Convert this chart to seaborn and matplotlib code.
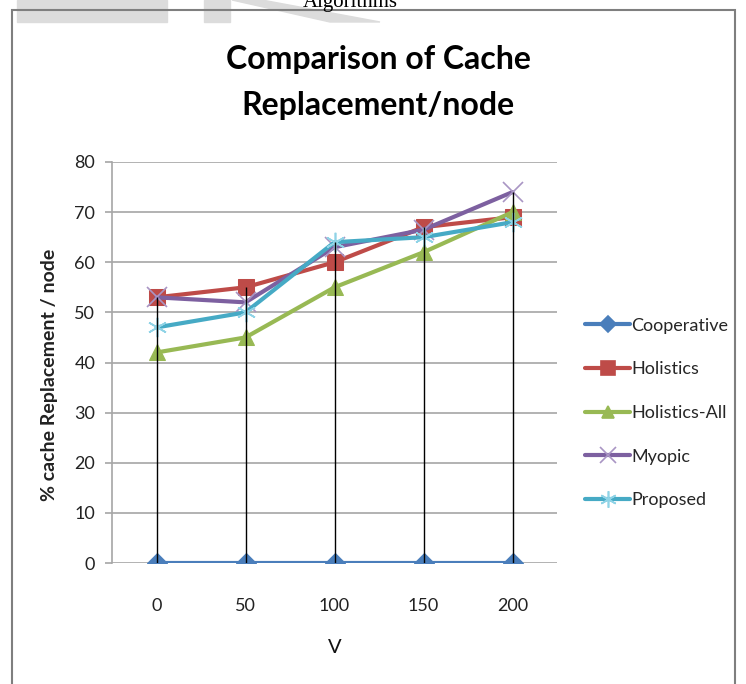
import matplotlib
matplotlib.use("Agg")
import matplotlib.pyplot as plt
import seaborn as sns
import pandas as pd
from matplotlib.patches import Rectangle, Polygon
from matplotlib.lines import Line2D

v_values = [0, 50, 100, 150, 200]
series_names = ["Cooperative", "Holistics", "Holistics-All", "Myopic", "Proposed"]
cooperative = [0, 0, 0, 0, 0]
holistics = [53, 55, 60, 67, 69]
holistics_all = [42, 45, 55, 62, 70]
myopic = [53, 52, 63, 66.5, 74]
proposed = [47, 50, 64, 65, 68]
y_ticks = [0, 10, 20, 30, 40, 50, 60, 70, 80]

values = [cooperative, holistics, holistics_all, myopic, proposed]
line_colors = ["#4A7EBB", "#BE4B48", "#98B954", "#7D60A0", "#46AAC5"]
marker_colors = ["#4A7EBB", "#BE4B48", "#98B954", "#A995C4", "#8FD3E6"]
markers = ["D", "s", "^", "x", (6, 2, 0)]
msizes = [10, 12, 11, 14, 14]

sns.set_theme(style="white")
plt.rcParams['font.family'] = ['Lato', 'DejaVu Sans']

fig = plt.figure(figsize=(7.46, 6.84), dpi=100)
ax = fig.add_axes([112/746, 1-563/684, 445/746, 401/684])

rows = []
for name, vals in zip(series_names, values):
    for x, y in zip(v_values, vals):
        rows.append({"V": x, "value": y, "series": name})
df = pd.DataFrame(rows)

for i, name in enumerate(series_names):
    sub = df[df["series"] == name]
    kw = dict(markeredgecolor=marker_colors[i])
    if i >= 3:
        kw["markeredgewidth"] = 1.2
    else:
        kw["markerfacecolor"] = marker_colors[i]
    sns.lineplot(data=sub, x="V", y="value", ax=ax, color=line_colors[i],
                 linewidth=3, marker=markers[i], markersize=msizes[i],
                 zorder=3 + i, legend=False, **kw)

# drop lines from top of each category to zero
maxes = df.groupby("V")["value"].max()
ax.vlines(maxes.index, 0, maxes.values, color="black", linewidth=1, zorder=10)

ax.set_xlim(-25, 225)
ax.set_ylim(0, 80)
ax.set_xticks(v_values)
ax.set_xticklabels([str(v) for v in v_values])
ax.set_yticks(y_ticks)
ax.yaxis.grid(True, color="#A6A6A6", linewidth=1.2)
ax.set_axisbelow(True)
for s in ["top", "right", "bottom"]:
    ax.spines[s].set_visible(False)
ax.spines["left"].set_color("#A6A6A6")
ax.spines["left"].set_linewidth(1.2)
ax.tick_params(axis="y", length=5, width=1.2, color="#A6A6A6", pad=7, labelsize=13, labelcolor="#222222", left=True)
ax.tick_params(axis="x", length=0, pad=25, labelsize=13, labelcolor="#222222")
ax.set_xlabel("V", fontsize=14.5, labelpad=18, color="#111111")
ax.set_ylabel("% cache Replacement / node", fontsize=14, fontweight="bold", color="#222222")
ax.yaxis.set_label_coords(-54/445, 0.468)

fig.text(378/746, 1-60/684, "Comparison of Cache", ha="center", va="center",
         fontsize=23, fontweight="bold", color="black")
fig.text(378/746, 1-105/684, "Replacement/node", ha="center", va="center",
         fontsize=23, fontweight="bold", color="black")

# legend
handles = []
for i, name in enumerate(series_names):
    h = Line2D([0], [0], color=line_colors[i], linewidth=3, marker=markers[i],
               markersize=msizes[i] * 0.85,
               markerfacecolor=marker_colors[i] if i < 3 else "none",
               markeredgecolor=marker_colors[i], markeredgewidth=1.2)
    handles.append(h)
fig.legend(handles, series_names, loc="center left", bbox_to_anchor=(585/746, 1-413/684),
           frameon=False, fontsize=13, labelspacing=1.53, handlelength=2.5,
           handletextpad=0.05, borderaxespad=0, borderpad=0)

# watermark shapes and header text above the chart frame
fig.patches.append(Rectangle((17/746, 1-22/684), 150/746, 22/684, transform=fig.transFigure,
                             color="#DCDCDC", zorder=0))
fig.patches.append(Rectangle((204/746, 1-22/684), 26/746, 22/684, transform=fig.transFigure,
                             color="#DCDCDC", zorder=0))
fig.patches.append(Polygon([(232/746, 1.0), (262/746, 1.0), (380/746, 1-22/684), (330/746, 1-22/684)],
                           closed=True, transform=fig.transFigure, color="#DCDCDC", zorder=0))
fig.text(350/746, 1-3/684, "Algorithms", ha="center", va="center", fontsize=15,
         family="Liberation Serif", color="black")
# chart frame
fig.patches.append(Rectangle((12/746, -0.05), 723/746, 1.05 - 10/684, transform=fig.transFigure,
                             fill=False, edgecolor="#7F7F7F", linewidth=1.5, zorder=1))

fig.savefig("out.png", dpi=100)
